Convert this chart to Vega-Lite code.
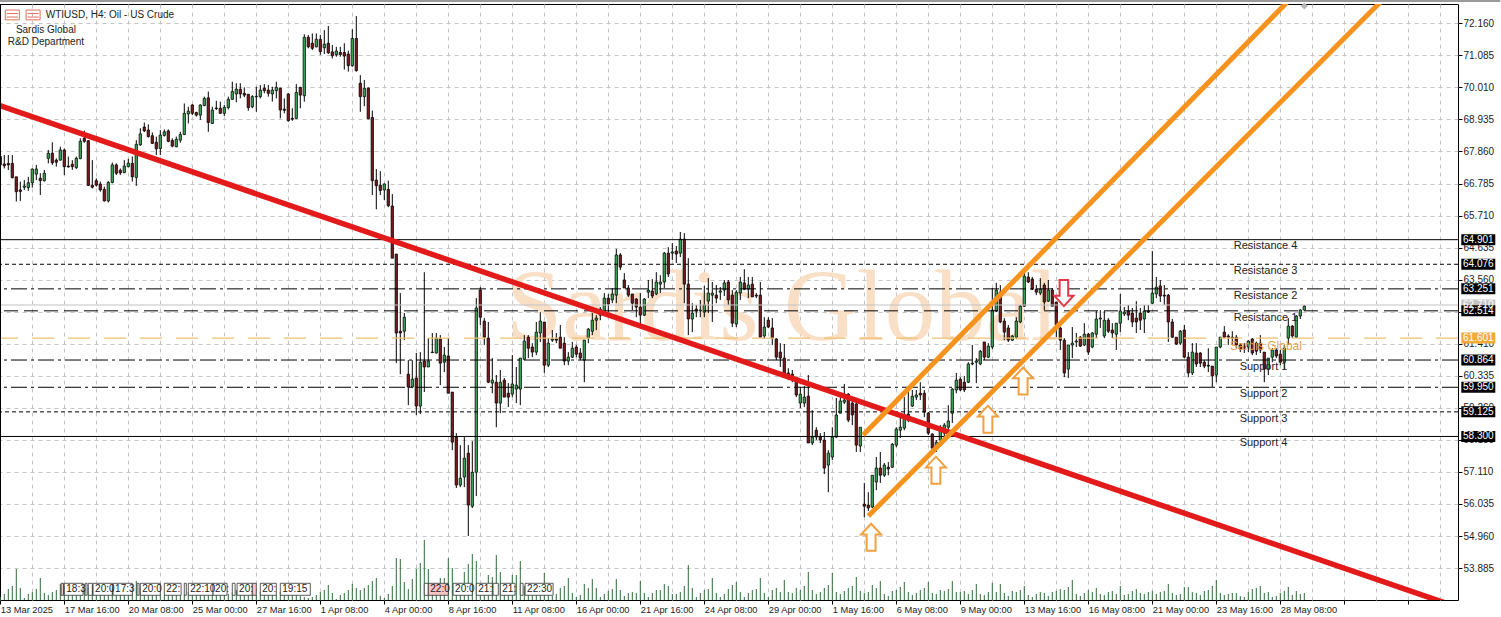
{"$schema":"https://vega.github.io/schema/vega-lite/v6.json","width":1458,"height":596,"autosize":{"type":"none"},"padding":{"left":0,"top":4,"right":43,"bottom":17},"background":"white","config":{"view":{"stroke":"#000","strokeWidth":1},"axis":{"labelOverlap":false},"text":{"font":"Liberation Sans"}},
"datasets":{
"candles":[
{"i":0,"o":67.69,"h":67.74,"l":67.38,"c":67.41,"v":3},{"i":1,"o":67.44,"h":67.74,"l":67.29,"c":67.38,"v":6},{"i":2,"o":67.46,"h":67.74,"l":67.24,"c":67.41,"v":11},{"i":3,"o":67.46,"h":67.74,"l":66.96,"c":66.98,"v":14},{"i":4,"o":67.01,"h":67.01,"l":66.18,"c":66.51,"v":31},{"i":5,"o":66.57,"h":66.85,"l":66.2,"c":66.52,"v":12},{"i":6,"o":66.66,"h":66.9,"l":66.57,"c":66.7,"v":2},{"i":7,"o":66.65,"h":67.01,"l":66.54,"c":66.81,"v":6},{"i":8,"o":66.81,"h":67.29,"l":66.65,"c":67.27,"v":8},{"i":9,"o":67.1,"h":67.41,"l":66.9,"c":67.27,"v":11},
{"i":10,"o":66.96,"h":67.13,"l":66.4,"c":66.88,"v":22},{"i":11,"o":66.88,"h":67.24,"l":66.85,"c":67.13,"v":7},{"i":12,"o":67.63,"h":67.91,"l":67.46,"c":67.8,"v":5},{"i":13,"o":67.8,"h":68.17,"l":67.41,"c":67.48,"v":8},{"i":14,"o":67.57,"h":67.63,"l":67.35,"c":67.5,"v":10},{"i":15,"o":67.57,"h":68.02,"l":67.55,"c":67.91,"v":16},{"i":16,"o":67.91,"h":67.96,"l":67.07,"c":67.35,"v":14},{"i":17,"o":67.37,"h":67.69,"l":67.32,"c":67.34,"v":12},{"i":18,"o":67.43,"h":67.57,"l":67.24,"c":67.35,"v":9},{"i":19,"o":67.32,"h":67.69,"l":67.27,"c":67.63,"v":7},
{"i":20,"o":67.62,"h":68.3,"l":67.6,"c":68.2,"v":6},{"i":21,"o":68.3,"h":68.56,"l":68.15,"c":68.2,"v":10},{"i":22,"o":68.22,"h":68.24,"l":66.7,"c":66.72,"v":12},{"i":23,"o":66.73,"h":67.57,"l":66.62,"c":66.66,"v":15},{"i":24,"o":66.88,"h":66.96,"l":66.68,"c":66.73,"v":8},{"i":25,"o":66.77,"h":66.85,"l":66.51,"c":66.57,"v":7},{"i":26,"o":66.59,"h":66.68,"l":66.18,"c":66.2,"v":9},{"i":27,"o":66.2,"h":66.87,"l":66.15,"c":66.82,"v":11},{"i":28,"o":66.82,"h":67.49,"l":66.79,"c":67.41,"v":13},{"i":29,"o":67.41,"h":67.46,"l":67.07,"c":67.13,"v":14},
{"i":30,"o":67.23,"h":67.29,"l":67.07,"c":67.14,"v":8},{"i":31,"o":67.15,"h":67.57,"l":67.13,"c":67.37,"v":6},{"i":32,"o":67.35,"h":67.61,"l":67.33,"c":67.47,"v":9},{"i":33,"o":67.46,"h":67.69,"l":66.85,"c":67.01,"v":7},{"i":34,"o":66.99,"h":68.24,"l":66.71,"c":68.1,"v":19},{"i":35,"o":68.08,"h":68.64,"l":68.05,"c":68.45,"v":12},{"i":36,"o":68.68,"h":68.83,"l":68.51,"c":68.55,"v":8},{"i":37,"o":68.58,"h":68.77,"l":68.33,"c":68.36,"v":7},{"i":38,"o":68.39,"h":68.5,"l":68.11,"c":68.13,"v":9},{"i":39,"o":68.17,"h":68.36,"l":67.74,"c":67.95,"v":10},
{"i":40,"o":67.96,"h":68.58,"l":67.74,"c":68.41,"v":6},{"i":41,"o":68.4,"h":68.6,"l":68.36,"c":68.52,"v":5},{"i":42,"o":68.55,"h":68.6,"l":68.17,"c":68.2,"v":8},{"i":43,"o":68.23,"h":68.3,"l":68,"c":68.04,"v":11},{"i":44,"o":68.02,"h":68.36,"l":68,"c":68.27,"v":9},{"i":45,"o":68.24,"h":68.52,"l":68.15,"c":68.43,"v":7},{"i":46,"o":68.43,"h":69.47,"l":68.41,"c":69.14,"v":6},{"i":47,"o":69.12,"h":69.36,"l":68.8,"c":69.21,"v":8},{"i":48,"o":69.42,"h":69.45,"l":69.08,"c":69.14,"v":10},{"i":49,"o":69.17,"h":69.19,"l":69.03,"c":69.08,"v":9},
{"i":50,"o":69.08,"h":69.44,"l":68.92,"c":69.42,"v":7},{"i":51,"o":69.4,"h":69.7,"l":69.38,"c":69.64,"v":5},{"i":52,"o":69.66,"h":69.87,"l":68.52,"c":68.83,"v":6},{"i":53,"o":68.8,"h":69.36,"l":68.78,"c":69.25,"v":8},{"i":54,"o":69.3,"h":69.56,"l":69.25,"c":69.32,"v":9},{"i":55,"o":69.31,"h":69.53,"l":69.12,"c":69.14,"v":11},{"i":56,"o":69.14,"h":69.42,"l":69.05,"c":69.34,"v":7},{"i":57,"o":69.33,"h":69.7,"l":69.27,"c":69.61,"v":6},{"i":58,"o":69.61,"h":70.2,"l":69.59,"c":69.87,"v":8},{"i":59,"o":69.79,"h":70.15,"l":69.51,"c":69.95,"v":10},
{"i":60,"o":69.95,"h":70.15,"l":69.64,"c":69.79,"v":12},{"i":61,"o":69.81,"h":70.01,"l":69.68,"c":69.75,"v":9},{"i":62,"o":69.78,"h":69.78,"l":69.23,"c":69.33,"v":7},{"i":63,"o":69.36,"h":69.75,"l":69.31,"c":69.7,"v":6},{"i":64,"o":69.69,"h":70.03,"l":69.19,"c":69.71,"v":5},{"i":65,"o":69.7,"h":70.09,"l":69.64,"c":69.92,"v":8},{"i":66,"o":69.98,"h":70.12,"l":69.81,"c":69.9,"v":7},{"i":67,"o":69.92,"h":70.09,"l":69.7,"c":69.81,"v":9},{"i":68,"o":69.79,"h":70.03,"l":69.53,"c":69.92,"v":6},{"i":69,"o":69.9,"h":70.2,"l":69.64,"c":70.01,"v":5},
{"i":70,"o":69.98,"h":70,"l":68.97,"c":69.25,"v":8},{"i":71,"o":69.28,"h":69.64,"l":69.14,"c":69.24,"v":10},{"i":72,"o":69.79,"h":69.81,"l":68.86,"c":68.89,"v":7},{"i":73,"o":68.97,"h":69.31,"l":68.89,"c":68.94,"v":6},{"i":74,"o":68.97,"h":70.12,"l":68.95,"c":69.84,"v":5},{"i":75,"o":70.01,"h":70.03,"l":69.31,"c":69.75,"v":4},{"i":76,"o":69.73,"h":71.79,"l":69.53,"c":71.69,"v":3},{"i":77,"o":71.69,"h":71.77,"l":71.32,"c":71.37,"v":2},{"i":78,"o":71.49,"h":71.82,"l":71.26,"c":71.32,"v":3},{"i":79,"o":71.37,"h":71.82,"l":71.35,"c":71.62,"v":5},
{"i":80,"o":71.62,"h":71.77,"l":71.1,"c":71.21,"v":8},{"i":81,"o":71.34,"h":71.93,"l":71.13,"c":71.46,"v":10},{"i":82,"o":71.49,"h":72.07,"l":71.13,"c":71.17,"v":15},{"i":83,"o":71.2,"h":71.43,"l":70.98,"c":71.07,"v":7},{"i":84,"o":71.11,"h":71.37,"l":71.04,"c":71.23,"v":1},{"i":85,"o":71.18,"h":71.37,"l":71.04,"c":71.11,"v":5},{"i":86,"o":71.18,"h":71.49,"l":70.61,"c":71.06,"v":7},{"i":87,"o":71.13,"h":71.24,"l":70.54,"c":70.74,"v":10},{"i":88,"o":70.74,"h":71.96,"l":70.7,"c":71.65,"v":16},{"i":89,"o":71.65,"h":72.4,"l":70.54,"c":70.57,"v":12},
{"i":90,"o":70.15,"h":70.42,"l":69.19,"c":69.7,"v":10},{"i":91,"o":69.7,"h":70.26,"l":69.38,"c":69.98,"v":12},{"i":92,"o":69.98,"h":70.01,"l":68.94,"c":68.96,"v":15},{"i":93,"o":69,"h":69.23,"l":66.4,"c":66.88,"v":19},{"i":94,"o":66.9,"h":67.27,"l":65.92,"c":66.71,"v":22},{"i":95,"o":66.73,"h":67.2,"l":66.4,"c":66.55,"v":4},{"i":96,"o":66.57,"h":66.79,"l":66.23,"c":66.77,"v":2},{"i":97,"o":66.59,"h":66.88,"l":65.99,"c":66.04,"v":6},{"i":98,"o":66.03,"h":66.43,"l":64.28,"c":64.28,"v":14},{"i":99,"o":64.42,"h":64.42,"l":60.76,"c":61.77,"v":42},
{"i":100,"o":61.83,"h":63.11,"l":60.39,"c":61.77,"v":41},{"i":101,"o":61.83,"h":62.44,"l":61.53,"c":62.3,"v":18},{"i":102,"o":60.39,"h":60.86,"l":59.35,"c":59.96,"v":11},{"i":103,"o":59.96,"h":60.86,"l":59.92,"c":60.22,"v":21},{"i":104,"o":60.26,"h":61.1,"l":59.02,"c":59.32,"v":31},{"i":105,"o":59.32,"h":61.13,"l":59.05,"c":60.79,"v":37},{"i":106,"o":60.83,"h":63.81,"l":59.79,"c":60.63,"v":60},{"i":107,"o":60.63,"h":61.6,"l":60.63,"c":60.83,"v":31},{"i":108,"o":61.11,"h":61.77,"l":61.1,"c":61.13,"v":9},{"i":109,"o":61.1,"h":61.77,"l":61.08,"c":61.6,"v":9},
{"i":110,"o":61.57,"h":61.7,"l":60.02,"c":60.76,"v":22},{"i":111,"o":60.79,"h":61.3,"l":60.46,"c":61.03,"v":22},{"i":112,"o":61,"h":61.6,"l":59.75,"c":59.75,"v":42},{"i":113,"o":59.79,"h":59.79,"l":57.84,"c":58.11,"v":32},{"i":114,"o":58.28,"h":58.41,"l":56.57,"c":56.67,"v":11},{"i":115,"o":56.67,"h":58.01,"l":56.6,"c":56.9,"v":17},{"i":116,"o":56.94,"h":58.28,"l":56.6,"c":57.57,"v":28},{"i":117,"o":57.74,"h":58.01,"l":54.96,"c":56,"v":36},{"i":118,"o":55.96,"h":58.14,"l":55.9,"c":57.1,"v":46},{"i":119,"o":57.1,"h":62.94,"l":56.3,"c":62.61,"v":39},
{"i":120,"o":63.21,"h":63.31,"l":62.04,"c":62.3,"v":14},{"i":121,"o":62.17,"h":62.27,"l":61.37,"c":61.63,"v":15},{"i":122,"o":61.6,"h":62.14,"l":60.09,"c":60.12,"v":25},{"i":123,"o":60.09,"h":60.93,"l":59.75,"c":60.19,"v":23},{"i":124,"o":60.12,"h":60.36,"l":58.61,"c":59.42,"v":45},{"i":125,"o":59.42,"h":60.53,"l":59.08,"c":60.12,"v":28},{"i":126,"o":60.19,"h":60.26,"l":59.62,"c":59.62,"v":14},{"i":127,"o":59.75,"h":60.09,"l":59.29,"c":59.62,"v":14},{"i":128,"o":59.72,"h":61.03,"l":59.62,"c":60.06,"v":25},{"i":129,"o":59.89,"h":60.63,"l":59.42,"c":60.02,"v":25},
{"i":130,"o":59.89,"h":60.93,"l":59.35,"c":60.93,"v":39},{"i":131,"o":60.89,"h":61.7,"l":60.86,"c":61.5,"v":14},{"i":132,"o":61.63,"h":61.7,"l":60.93,"c":61.26,"v":12},{"i":133,"o":61.3,"h":61.43,"l":60.96,"c":61.13,"v":11},{"i":134,"o":61.13,"h":62.14,"l":61.03,"c":61.8,"v":12},{"i":135,"o":61.77,"h":62.47,"l":61.47,"c":62.17,"v":12},{"i":136,"o":62.14,"h":62.14,"l":60.43,"c":60.69,"v":27},{"i":137,"o":60.69,"h":61.6,"l":60.63,"c":61.43,"v":14},{"i":138,"o":61.53,"h":61.87,"l":61.47,"c":61.57,"v":4},{"i":139,"o":61.57,"h":61.77,"l":61.43,"c":61.53,"v":6},
{"i":140,"o":61.63,"h":62.04,"l":61.26,"c":61.26,"v":12},{"i":141,"o":61.43,"h":61.63,"l":60.69,"c":60.83,"v":14},{"i":142,"o":60.83,"h":61.13,"l":60.69,"c":60.96,"v":22},{"i":143,"o":60.96,"h":61.47,"l":60.93,"c":61.26,"v":7},{"i":144,"o":61.3,"h":61.37,"l":60.96,"c":61.06,"v":3},{"i":145,"o":61.1,"h":61.26,"l":60.86,"c":60.93,"v":5},{"i":146,"o":60.86,"h":61.53,"l":60.12,"c":61.53,"v":16},{"i":147,"o":61.6,"h":61.94,"l":61.43,"c":61.9,"v":12},{"i":148,"o":61.83,"h":62.44,"l":61.7,"c":62.2,"v":21},{"i":149,"o":62.2,"h":62.37,"l":61.87,"c":62.27,"v":12},
{"i":150,"o":62.57,"h":62.64,"l":62.2,"c":62.37,"v":3},{"i":151,"o":62.47,"h":63.11,"l":62.44,"c":62.94,"v":6},{"i":152,"o":62.94,"h":63.08,"l":62.47,"c":62.74,"v":9},{"i":153,"o":62.88,"h":63.28,"l":62.77,"c":63.08,"v":11},{"i":154,"o":63.04,"h":64.59,"l":62.77,"c":64.39,"v":21},{"i":155,"o":64.39,"h":64.45,"l":63.88,"c":63.98,"v":10},{"i":156,"o":63.55,"h":63.78,"l":63.28,"c":63.28,"v":4},{"i":157,"o":63.28,"h":63.38,"l":62.98,"c":63.04,"v":7},{"i":158,"o":63.08,"h":63.08,"l":62.54,"c":62.77,"v":8},{"i":159,"o":62.91,"h":62.94,"l":62.3,"c":62.64,"v":7},
{"i":160,"o":62.64,"h":63.11,"l":62.04,"c":62.37,"v":19},{"i":161,"o":62.37,"h":62.94,"l":62.34,"c":62.91,"v":7},{"i":162,"o":63.14,"h":63.55,"l":62.94,"c":63.21,"v":3},{"i":163,"o":63.18,"h":63.58,"l":62.94,"c":63.01,"v":7},{"i":164,"o":63.08,"h":63.81,"l":63.04,"c":63.48,"v":10},{"i":165,"o":63.41,"h":63.71,"l":63.11,"c":63.48,"v":10},{"i":166,"o":63.48,"h":64.49,"l":63.28,"c":64.45,"v":16},{"i":167,"o":64.45,"h":64.65,"l":63.65,"c":63.75,"v":14},{"i":168,"o":64.45,"h":64.79,"l":64.22,"c":64.49,"v":6},{"i":169,"o":64.52,"h":64.69,"l":64.12,"c":64.42,"v":6},
{"i":170,"o":64.45,"h":65.16,"l":64.32,"c":64.92,"v":8},{"i":171,"o":64.92,"h":65.12,"l":62.77,"c":63.41,"v":14},{"i":172,"o":63.41,"h":64.28,"l":61.7,"c":62.24,"v":35},{"i":173,"o":62.24,"h":62.77,"l":61.8,"c":62.44,"v":12},{"i":174,"o":62.57,"h":62.71,"l":62.3,"c":62.51,"v":3},{"i":175,"o":62.51,"h":62.88,"l":62.3,"c":62.54,"v":7},{"i":176,"o":62.47,"h":63.35,"l":62.3,"c":62.71,"v":10},{"i":177,"o":62.84,"h":63.61,"l":62.44,"c":63.11,"v":11},{"i":178,"o":63.04,"h":63.48,"l":62.14,"c":63.11,"v":22},{"i":179,"o":63.04,"h":63.38,"l":62.77,"c":62.94,"v":7},
{"i":180,"o":63.14,"h":63.31,"l":62.88,"c":63.18,"v":3},{"i":181,"o":63.21,"h":63.55,"l":63.01,"c":63.45,"v":6},{"i":182,"o":63.48,"h":63.55,"l":62.71,"c":62.88,"v":11},{"i":183,"o":63.04,"h":63.21,"l":61.97,"c":62.1,"v":15},{"i":184,"o":62.07,"h":63.21,"l":61.97,"c":63.14,"v":18},{"i":185,"o":63.11,"h":63.65,"l":62.88,"c":63.48,"v":8},{"i":186,"o":63.45,"h":63.91,"l":63.21,"c":63.24,"v":3},{"i":187,"o":63.24,"h":63.65,"l":62.94,"c":63.38,"v":7},{"i":188,"o":63.41,"h":63.65,"l":62.98,"c":62.98,"v":10},{"i":189,"o":63.04,"h":63.11,"l":62.94,"c":63.01,"v":11},
{"i":190,"o":63.04,"h":63.48,"l":61.63,"c":61.63,"v":22},{"i":191,"o":61.67,"h":62.3,"l":61.57,"c":61.97,"v":7},{"i":192,"o":62.2,"h":62.3,"l":61.94,"c":61.97,"v":3},{"i":193,"o":61.94,"h":62.27,"l":61.37,"c":61.6,"v":10},{"i":194,"o":61.57,"h":61.6,"l":60.86,"c":60.96,"v":12},{"i":195,"o":61.13,"h":61.43,"l":60.63,"c":60.93,"v":8},{"i":196,"o":60.93,"h":61.4,"l":60.29,"c":60.36,"v":20},{"i":197,"o":60.43,"h":60.59,"l":60.19,"c":60.29,"v":8},{"i":198,"o":60.39,"h":60.53,"l":60.12,"c":60.29,"v":7},{"i":199,"o":60.29,"h":60.29,"l":59.62,"c":59.69,"v":12},
{"i":200,"o":59.42,"h":59.96,"l":59.25,"c":59.72,"v":10},{"i":201,"o":59.42,"h":59.99,"l":59.29,"c":59.62,"v":14},{"i":202,"o":59.65,"h":60.36,"l":58.08,"c":58.08,"v":28},{"i":203,"o":58.08,"h":59.18,"l":58.01,"c":58.28,"v":10},{"i":204,"o":58.51,"h":58.61,"l":58.18,"c":58.28,"v":6},{"i":205,"o":58.28,"h":58.41,"l":58.08,"c":58.18,"v":8},{"i":206,"o":58.18,"h":58.45,"l":57.04,"c":57.24,"v":12},{"i":207,"o":57.34,"h":57.84,"l":56.43,"c":57.74,"v":15},{"i":208,"o":57.61,"h":58.61,"l":57.51,"c":58.28,"v":27},{"i":209,"o":58.28,"h":59.59,"l":58.25,"c":59.02,"v":8},
{"i":210,"o":59.08,"h":59.75,"l":59.08,"c":59.49,"v":6},{"i":211,"o":59.45,"h":60.06,"l":59.39,"c":59.52,"v":9},{"i":212,"o":59.72,"h":59.75,"l":58.78,"c":58.85,"v":12},{"i":213,"o":59.42,"h":59.59,"l":58.68,"c":59.02,"v":14},{"i":214,"o":59.39,"h":59.42,"l":57.78,"c":58.01,"v":23},{"i":215,"o":57.98,"h":58.61,"l":57.78,"c":58.61,"v":9},{"i":216,"o":56.03,"h":56.74,"l":55.59,"c":55.96,"v":7},{"i":217,"o":56,"h":56.43,"l":55.8,"c":55.9,"v":8},{"i":218,"o":55.93,"h":57,"l":55.9,"c":57,"v":15},{"i":219,"o":56.77,"h":57.61,"l":56.5,"c":57.24,"v":12},
{"i":220,"o":57.24,"h":57.78,"l":56.74,"c":57,"v":19},{"i":221,"o":57,"h":57.41,"l":56.94,"c":57.34,"v":6},{"i":222,"o":57.27,"h":57.44,"l":57,"c":57.21,"v":4},{"i":223,"o":57.27,"h":58.08,"l":57.24,"c":58.04,"v":9},{"i":224,"o":58.01,"h":58.61,"l":57.94,"c":58.55,"v":10},{"i":225,"o":58.51,"h":59.02,"l":58.25,"c":58.61,"v":13},{"i":226,"o":58.58,"h":59.62,"l":58.51,"c":59.02,"v":18},{"i":227,"o":59.05,"h":59.96,"l":58.78,"c":58.85,"v":8},{"i":228,"o":59.32,"h":59.86,"l":59.29,"c":59.65,"v":5},{"i":229,"o":59.62,"h":59.86,"l":59.52,"c":59.69,"v":7},
{"i":230,"o":59.75,"h":60.12,"l":59.52,"c":59.69,"v":10},{"i":231,"o":59.75,"h":59.86,"l":58.95,"c":59.12,"v":12},{"i":232,"o":59.08,"h":59.12,"l":58.35,"c":58.41,"v":18},{"i":233,"o":58.38,"h":58.41,"l":57.84,"c":57.91,"v":7},{"i":234,"o":57.94,"h":58.18,"l":57.78,"c":58.11,"v":6},{"i":235,"o":58.18,"h":58.68,"l":58.11,"c":58.51,"v":10},{"i":236,"o":58.41,"h":58.75,"l":58.25,"c":58.68,"v":9},{"i":237,"o":58.61,"h":59.35,"l":58.45,"c":58.82,"v":11},{"i":238,"o":59.08,"h":59.92,"l":58.75,"c":59.89,"v":19},{"i":239,"o":59.86,"h":60.43,"l":59.75,"c":60.19,"v":8},
{"i":240,"o":60.22,"h":60.29,"l":59.82,"c":59.86,"v":8},{"i":241,"o":60.12,"h":60.33,"l":59.79,"c":59.86,"v":9},{"i":242,"o":60.12,"h":60.79,"l":60.09,"c":60.73,"v":6},{"i":243,"o":60.73,"h":61.37,"l":60.69,"c":60.76,"v":10},{"i":244,"o":60.79,"h":60.93,"l":60.09,"c":60.83,"v":16},{"i":245,"o":60.73,"h":61.2,"l":60.69,"c":61.16,"v":6},{"i":246,"o":61.47,"h":61.47,"l":60.86,"c":60.96,"v":5},{"i":247,"o":60.96,"h":61.43,"l":60.93,"c":61.33,"v":8},{"i":248,"o":61.3,"h":63.28,"l":61.23,"c":62.54,"v":17},{"i":249,"o":62.51,"h":63.45,"l":62.47,"c":63.21,"v":8},
{"i":250,"o":63.14,"h":63.38,"l":62.1,"c":62.14,"v":16},{"i":251,"o":62.17,"h":62.27,"l":61.53,"c":61.8,"v":7},{"i":252,"o":61.94,"h":62.04,"l":61.47,"c":61.53,"v":4},{"i":253,"o":61.53,"h":61.7,"l":61.5,"c":61.67,"v":9},{"i":254,"o":61.63,"h":62.3,"l":61.57,"c":62.17,"v":8},{"i":255,"o":62.14,"h":62.71,"l":62.1,"c":62.67,"v":10},{"i":256,"o":62.67,"h":63.81,"l":62.64,"c":63.68,"v":14},{"i":257,"o":63.65,"h":63.81,"l":63.45,"c":63.48,"v":5},{"i":258,"o":63.58,"h":63.65,"l":63.21,"c":63.24,"v":3},{"i":259,"o":63.24,"h":63.38,"l":63.04,"c":63.14,"v":6},
{"i":260,"o":63.11,"h":63.61,"l":63.04,"c":63.24,"v":8},{"i":261,"o":63.38,"h":63.45,"l":62.54,"c":62.81,"v":7},{"i":262,"o":62.84,"h":63.55,"l":62.81,"c":63.21,"v":4},{"i":263,"o":63.21,"h":63.28,"l":62.67,"c":62.67,"v":8},{"i":264,"o":62.81,"h":62.81,"l":61.63,"c":62.04,"v":9},{"i":265,"o":61.94,"h":61.97,"l":61.2,"c":61.53,"v":11},{"i":266,"o":61.53,"h":61.6,"l":60.29,"c":60.43,"v":10},{"i":267,"o":60.56,"h":61.37,"l":60.26,"c":61.37,"v":13},{"i":268,"o":61.37,"h":61.97,"l":60.93,"c":61.43,"v":20},{"i":269,"o":61.47,"h":61.77,"l":61.3,"c":61.5,"v":6},
{"i":270,"o":61.63,"h":61.67,"l":61.3,"c":61.33,"v":4},{"i":271,"o":61.37,"h":62.1,"l":61.33,"c":61.73,"v":7},{"i":272,"o":61.73,"h":61.77,"l":61.03,"c":61.13,"v":10},{"i":273,"o":61.3,"h":61.8,"l":61.26,"c":61.77,"v":8},{"i":274,"o":61.73,"h":62.51,"l":61.6,"c":62.24,"v":12},{"i":275,"o":62.24,"h":62.54,"l":61.94,"c":62.27,"v":6},{"i":276,"o":61.67,"h":62.51,"l":61.6,"c":62.2,"v":5},{"i":277,"o":62.2,"h":62.27,"l":61.77,"c":61.83,"v":8},{"i":278,"o":61.87,"h":62.1,"l":61.6,"c":61.77,"v":9},{"i":279,"o":61.73,"h":62.1,"l":61.2,"c":62.1,"v":6},
{"i":280,"o":62.1,"h":63.08,"l":61.8,"c":62.51,"v":14},{"i":281,"o":62.41,"h":62.64,"l":62.34,"c":62.47,"v":5},{"i":282,"o":62.51,"h":62.71,"l":62.2,"c":62.37,"v":6},{"i":283,"o":62.44,"h":62.61,"l":61.97,"c":62.14,"v":9},{"i":284,"o":62.27,"h":62.84,"l":61.77,"c":62.14,"v":11},{"i":285,"o":62.44,"h":62.61,"l":61.87,"c":62.2,"v":7},{"i":286,"o":62.24,"h":62.71,"l":61.77,"c":62.51,"v":6},{"i":287,"o":62.51,"h":62.71,"l":62.44,"c":62.47,"v":8},{"i":288,"o":62.77,"h":64.52,"l":62.74,"c":63.11,"v":9},{"i":289,"o":63.08,"h":63.65,"l":62.94,"c":63.31,"v":6},
{"i":290,"o":63.35,"h":63.55,"l":62.81,"c":63.01,"v":8},{"i":291,"o":63.04,"h":63.38,"l":62.71,"c":63.01,"v":9},{"i":292,"o":63.04,"h":63.08,"l":61.47,"c":62.14,"v":16},{"i":293,"o":62.14,"h":62.24,"l":61.6,"c":61.63,"v":7},{"i":294,"o":61.63,"h":61.63,"l":61.37,"c":61.4,"v":5},{"i":295,"o":61.43,"h":61.87,"l":61.37,"c":61.83,"v":6},{"i":296,"o":61.87,"h":62.04,"l":60.93,"c":60.96,"v":13},{"i":297,"o":60.96,"h":61.13,"l":60.29,"c":60.43,"v":13},{"i":298,"o":60.43,"h":61.43,"l":60.36,"c":61.13,"v":8},{"i":299,"o":61.1,"h":61.43,"l":60.63,"c":60.73,"v":7},
{"i":300,"o":61.1,"h":61.13,"l":60.63,"c":60.76,"v":5},{"i":301,"o":60.79,"h":60.86,"l":60.59,"c":60.66,"v":9},{"i":302,"o":60.69,"h":61.26,"l":60.46,"c":60.66,"v":10},{"i":303,"o":60.66,"h":60.66,"l":59.96,"c":60.33,"v":14},{"i":304,"o":60.36,"h":61.3,"l":60.12,"c":61.3,"v":20},{"i":305,"o":61.3,"h":61.63,"l":61.26,"c":61.63,"v":7},{"i":306,"o":61.8,"h":62,"l":61.6,"c":61.63,"v":5},{"i":307,"o":61.67,"h":61.73,"l":61.37,"c":61.63,"v":6},{"i":308,"o":61.63,"h":61.83,"l":61.37,"c":61.6,"v":7},{"i":309,"o":61.63,"h":61.7,"l":61.26,"c":61.37,"v":7},
{"i":310,"o":61.37,"h":61.43,"l":61.13,"c":61.23,"v":4},{"i":311,"o":61.33,"h":61.43,"l":61.1,"c":61.26,"v":3},{"i":312,"o":61.3,"h":61.53,"l":61.13,"c":61.5,"v":8},{"i":313,"o":61.57,"h":61.6,"l":61.03,"c":61.1,"v":11},{"i":314,"o":61.43,"h":61.47,"l":61.03,"c":61.16,"v":12},{"i":315,"o":61.43,"h":61.7,"l":61.1,"c":61.2,"v":14},{"i":316,"o":61.13,"h":61.13,"l":60.12,"c":60.56,"v":7},{"i":317,"o":60.56,"h":60.93,"l":60.36,"c":60.93,"v":8},{"i":318,"o":60.96,"h":61.26,"l":60.79,"c":61.2,"v":3},{"i":319,"o":61.2,"h":61.26,"l":60.93,"c":61,"v":4},
{"i":320,"o":61.06,"h":61.2,"l":60.69,"c":60.79,"v":7},{"i":321,"o":60.79,"h":61.37,"l":60.53,"c":61.26,"v":9},{"i":322,"o":61.6,"h":62.27,"l":61.37,"c":62,"v":13},{"i":323,"o":62,"h":62.04,"l":61.6,"c":61.67,"v":5},{"i":324,"o":61.63,"h":62.37,"l":61.6,"c":62.34,"v":9},{"i":325,"o":62.34,"h":62.57,"l":62.24,"c":62.54,"v":6},{"i":326,"o":62.54,"h":62.71,"l":62.54,"c":62.67,"v":7}
],
"levels":[{"p":64.901,"k":"solid"},{"p":64.076,"k":"short"},{"p":63.251,"k":"dashdot"},{"p":62.514,"k":"long"},{"p":60.864,"k":"dashdot"},{"p":59.95,"k":"dashdot"},{"p":59.125,"k":"short"},{"p":58.3,"k":"solid"}],
"tags":[{"p":62.71,"t":"62.710"},{"p":64.901,"t":"64.901"},{"p":64.076,"t":"64.076"},{"p":63.251,"t":"63.251"},{"p":62.514,"t":"62.514"},{"p":61.601,"t":"61.601"},{"p":60.864,"t":"60.864"},{"p":59.95,"t":"59.950"},{"p":59.125,"t":"59.125"},{"p":58.3,"t":"58.300"}],
"head":[{"t":"WTIUSD, H4:  Oil - US Crude","i":27.4,"p":72.44},{"t":"Sardis Global","i":11.4,"p":71.93},{"t":"R&D Department","i":11.4,"p":71.53}],
"notes":[{"t":"Resistance 4","i":316.3,"p":64.69},{"t":"Resistance 3","i":316.3,"p":63.85},{"t":"Resistance 2","i":316.3,"p":63.01},{"t":"Resistance 1","i":316.3,"p":62.27},{"t":"Support 1","i":315.8,"p":60.63},{"t":"Support 2","i":315.8,"p":59.72},{"t":"Support 3","i":315.8,"p":58.88},{"t":"Support 4","i":315.8,"p":58.08}],
"events":[{"a":15.2,"b":15.8,"t":"","k":"loss"},{"a":16,"b":20.7,"t":"18:3","k":"win"},{"a":21.2,"b":21.7,"t":"","k":"win"},{"a":22,"b":23,"t":"","k":"win"},{"a":23.2,"b":28,"t":"20:0","k":"win"},{"a":28.2,"b":33,"t":"17:3","k":"win"},{"a":34.2,"b":34.7,"t":"","k":"win"},{"a":35,"b":40,"t":"20:0","k":"win"},{"a":41,"b":45.2,"t":"22:","k":"win"},{"a":46,"b":46.5,"t":"","k":"win"},{"a":47,"b":53.2,"t":"22:10","k":"win"},{"a":53.2,"b":56.7,"t":"20:","k":"win"},{"a":58,"b":58.7,"t":"","k":"win"},{"a":59.2,"b":63,"t":"20:","k":"win"},{"a":63,"b":64,"t":"","k":"loss"},{"a":65,"b":69,"t":"20:","k":"win"},{"a":70,"b":77.5,"t":"19:15","k":"win"},{"a":106,"b":107,"t":"","k":"win"},{"a":107,"b":112,"t":"22:0","k":"loss"},{"a":113.2,"b":118,"t":"20:0","k":"win"},{"a":119,"b":123,"t":"21:","k":"win"},{"a":123.2,"b":124.5,"t":"","k":"win"},{"a":125,"b":128.7,"t":"21:","k":"win"},{"a":130,"b":130.7,"t":"","k":"win"},{"a":131.2,"b":138.2,"t":"22:30","k":"win"}],
"red":[{"i":-1,"p":69.44},{"i":362.4,"p":52.66}],
"upper":[{"i":215.7,"p":58.35},{"i":323.7,"p":73.14}],
"lower":[{"i":217,"p":55.63},{"i":347,"p":73.14}],
"ups":[{"i":217.7,"p":54.92},{"i":233.9,"p":57.17},{"i":246.9,"p":58.88},{"i":255.7,"p":60.16}],
"downs":[{"i":265.9,"p":63.11}]
},
"layer":[
{"layer":[
{"data":{"values":[{"t":"Sardis Global","i":195.5,"p":61.54}]},"mark":{"type":"text","font":"Liberation Serif","fontSize":101,"color":"#f9dfc6","align":"center","baseline":"alphabetic"},"encoding":{"x":{"field":"i","type":"quantitative","scale":{"domain":[-0.075,364.425],"nice":false,"zero":false,"padding":0},
"axis":{"title":null,"orient":"bottom","tickCount":100,"values":[0,8,16,24,32,40,48,56,64,72,80,88,96,104,112,120,128,136,144,152,160,168,176,184,192,200,208,216,224,232,240,248,256,264,272,280,288,296,304,312,320,328,336,344,352,360],
"labelExpr":"['13 Mar 2025','','17 Mar 16:00','','20 Mar 08:00','','25 Mar 00:00','','27 Mar 16:00','','1 Apr 08:00','','4 Apr 00:00','','8 Apr 16:00','','11 Apr 08:00','','16 Apr 00:00','','21 Apr 16:00','','24 Apr 08:00','','29 Apr 00:00','','1 May 16:00','','6 May 08:00','','9 May 00:00','','13 May 16:00','','16 May 08:00','','21 May 00:00','','23 May 16:00','','28 May 08:00','','','','','',''][datum.value/8]",
"labelAlign":"left","labelOverlap":false,"labelFlush":false,"labelFont":"Liberation Sans","labelFontSize":9.3,"labelColor":"#222","labelPadding":1,"tickSize":4,"tickColor":"#000","tickOpacity":{"condition":{"test":"datum.value%16==0","value":1},"value":0},"domain":false,"grid":true,"gridColor":"#c4c4c4","gridDash":[4,4],"gridWidth":1}},
"y":{"field":"p","type":"quantitative","scale":{"domain":[52.814,72.807],"nice":false,"zero":false},
"axis":{"title":null,"orient":"right","tickCount":100,"values":[72.16,71.085,70.01,68.935,67.86,66.785,65.71,64.635,63.56,62.485,61.41,60.335,59.26,58.185,57.11,56.035,54.96,53.885],"format":".3f","labelOverlap":false,"labelFont":"Liberation Sans","labelFontSize":10,"labelColor":"#222","labelPadding":1,"tickSize":4,"tickColor":"#000","domain":false,"grid":true,"gridColor":"#c4c4c4","gridDash":[4,4],"gridWidth":1}},"text":{"field":"t"}}},
{"data":{"name":"candles"},"mark":{"type":"rule","color":"#000","size":1},"encoding":{"x":{"field":"i","type":"quantitative"},"y":{"field":"l","type":"quantitative"},"y2":{"field":"h"}}},
{"data":{"name":"candles"},"mark":{"type":"bar","size":2.4,"stroke":"#000","strokeWidth":0.7},"encoding":{"x":{"field":"i","type":"quantitative"},"y":{"field":"o","type":"quantitative"},"y2":{"field":"c"},"color":{"condition":{"test":"datum.c>=datum.o","value":"#3f9c52"},"value":"#6e1b1b"}}},
{"data":{"values":[{"p":62.71}]},"mark":{"type":"rule","color":"#c2c2c2","size":1},"encoding":{"y":{"field":"p","type":"quantitative"}}},
{"data":{"values":[{"p":61.601}]},"mark":{"type":"rule","color":"#f0c070","size":1.2,"strokeDash":[22,14]},"encoding":{"y":{"field":"p","type":"quantitative"}}},
{"data":{"name":"levels"},"mark":{"type":"rule","color":"#000","size":1},"encoding":{"y":{"field":"p","type":"quantitative"},"strokeDash":{"field":"k","type":"nominal","legend":null,"scale":{"domain":["solid","short","dashdot","long"],"range":[[1,0],[4,3],[16,4,3,4],[14,6]]}}}},
{"data":{"name":"red"},"mark":{"type":"line","color":"#e21a1a","strokeWidth":5.5,"clip":true},"encoding":{"x":{"field":"i","type":"quantitative"},"y":{"field":"p","type":"quantitative"}}},
{"data":{"name":"upper"},"mark":{"type":"line","color":"#f5931e","strokeWidth":5,"clip":true},"encoding":{"x":{"field":"i","type":"quantitative"},"y":{"field":"p","type":"quantitative"}}},
{"data":{"name":"lower"},"mark":{"type":"line","color":"#f5931e","strokeWidth":5,"clip":true},"encoding":{"x":{"field":"i","type":"quantitative"},"y":{"field":"p","type":"quantitative"}}},
{"data":{"name":"ups"},"mark":{"type":"point","shape":"M0,-1L0.74,-0.2L0.33,-0.2L0.33,1L-0.33,1L-0.33,-0.2L-0.74,-0.2Z","size":729,"filled":true,"fill":"#fff","stroke":"#f0a040","strokeWidth":2,"opacity":1},"encoding":{"x":{"field":"i","type":"quantitative"},"y":{"field":"p","type":"quantitative"}}},
{"data":{"name":"downs"},"mark":{"type":"point","shape":"M0,1L0.74,0.2L0.33,0.2L0.33,-1L-0.33,-1L-0.33,0.2L-0.74,0.2Z","size":676,"filled":true,"fill":"#fff","stroke":"#e03848","strokeWidth":2,"opacity":1},"encoding":{"x":{"field":"i","type":"quantitative"},"y":{"field":"p","type":"quantitative"}}},
{"data":{"name":"notes"},"mark":{"type":"text","font":"Liberation Sans","fontSize":11,"color":"#222","align":"center","baseline":"middle"},"encoding":{"x":{"field":"i","type":"quantitative"},"y":{"field":"p","type":"quantitative"},"text":{"field":"t"}}},
{"data":{"name":"head"},"mark":{"type":"text","font":"Liberation Sans","fontSize":10,"color":"#222","align":"center","baseline":"middle"},"encoding":{"x":{"field":"i","type":"quantitative"},"y":{"field":"p","type":"quantitative"},"text":{"field":"t"}}},
{"data":{"values":[{"t":"Sardis Global","i":316.4,"p":61.33}]},"mark":{"type":"text","font":"Liberation Sans","fontSize":12,"color":"#e8a050","align":"center","baseline":"middle"},"encoding":{"x":{"field":"i","type":"quantitative"},"y":{"field":"p","type":"quantitative"},"text":{"field":"t"}}},
{"data":{"values":[{"i":3,"p":72.44},{"i":8.2,"p":72.44}]},"mark":{"type":"point","shape":"M-1,-0.7H1V0.7H-1ZM-0.8,-0.2H0.8M-0.8,0.3H0.8","size":196,"stroke":"#e07060","strokeWidth":1,"opacity":1},"encoding":{"x":{"field":"i","type":"quantitative"},"y":{"field":"p","type":"quantitative"}}},
{"data":{"values":[{"i":326,"p":72.74}]},"mark":{"type":"point","shape":"diamond","size":50,"filled":true,"color":"#b8b8b8","opacity":1},"encoding":{"x":{"field":"i","type":"quantitative"},"y":{"field":"p","type":"quantitative"}}},
{"data":{"name":"tags"},"mark":{"type":"tick","orient":"horizontal","size":34,"thickness":11,"opacity":1},"encoding":{"x":{"datum":369.5,"type":"quantitative"},"y":{"field":"p","type":"quantitative"},"color":{"condition":[{"test":"datum.p==61.601","value":"#f2aa3c"},{"test":"datum.p==62.71","value":"#c4c4c4"}],"value":"#000"}}},
{"data":{"name":"tags"},"mark":{"type":"text","font":"Liberation Sans","fontSize":10,"color":"#fff","align":"center","baseline":"middle"},"encoding":{"x":{"datum":369.5,"type":"quantitative"},"y":{"field":"p","type":"quantitative"},"text":{"field":"t"}}},
{"data":{"values":[{"a":-0.075,"b":375,"p":72.92}]},"mark":{"type":"rule","color":"#9a9a9a","size":2.5},"encoding":{"x":{"field":"a","type":"quantitative"},"x2":{"field":"b"},"y":{"field":"p","type":"quantitative"}}},
{"data":{"values":[{"a":0.05}]},"mark":{"type":"rule","color":"#000","size":1},"encoding":{"x":{"field":"a","type":"quantitative"}}}
]},
{"layer":[
{"data":{"name":"candles"},"mark":{"type":"rule","color":"#2f6b3a","size":1},"encoding":{"x":{"field":"i","type":"quantitative"},"y":{"field":"v","type":"quantitative","scale":{"domain":[0,596],"nice":false,"zero":false},"axis":null}}},
{"data":{"name":"events"},"mark":{"type":"rect","stroke":"#333","strokeWidth":0.8},"encoding":{"x":{"field":"a","type":"quantitative"},"x2":{"field":"b"},"y":{"datum":16.7,"type":"quantitative","axis":null},"y2":{"datum":4.7},"fill":{"condition":{"test":"datum.k=='loss'","value":"#f6c6c6"},"value":"#fff"}}},
{"data":{"name":"events"},"transform":[{"filter":"datum.t!=''"}],"mark":{"type":"text","font":"Liberation Sans","fontSize":10,"color":"#222","align":"left","baseline":"middle","dx":2},"encoding":{"x":{"field":"a","type":"quantitative"},"y":{"datum":10.7,"type":"quantitative","axis":null},"text":{"field":"t"}}}
]}
],
"resolve":{"scale":{"y":"independent"}}}
